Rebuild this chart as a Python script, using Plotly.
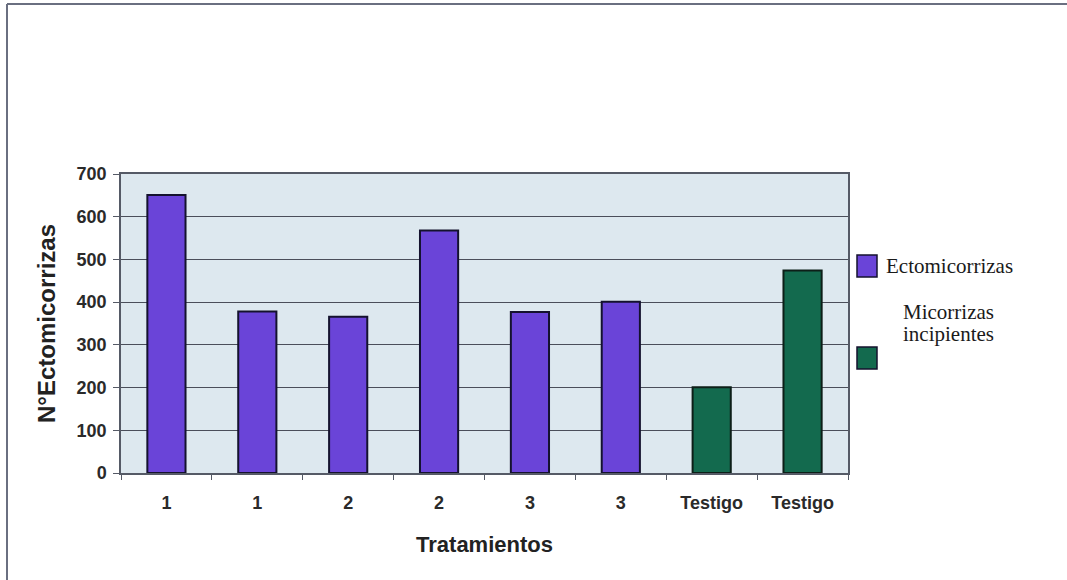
import plotly.graph_objects as go

# Treatment labels along the x axis and counts per bar
tick_labels = ["1", "1", "2", "2", "3", "3", "Testigo", "Testigo"]
ecto_values = [651, 378, 366, 568, 377, 401]
incip_values = [201, 474]
series_names = ["Ectomicorrizas", "Micorrizas", "incipientes"]
series_colors = ["#6a44d8", "#136a4e"]

positions = list(range(len(tick_labels)))
ecto_x = positions[:len(ecto_values)]
incip_x = positions[len(ecto_values):]

fig = go.Figure()
fig.add_trace(go.Bar(
    x=ecto_x, y=ecto_values, width=0.42, name="Ectomicorrizas",
    marker=dict(color=series_colors[0], line=dict(color="#14122e", width=2)),
    showlegend=False,
))
fig.add_trace(go.Bar(
    x=incip_x, y=incip_values, width=0.42, name="Micorrizas incipientes",
    marker=dict(color=series_colors[1], line=dict(color="#0d1f18", width=2)),
    showlegend=False,
))

axis_font = dict(family="Liberation Sans, Arial", size=18, color="#2a2a2a")

fig.update_layout(
    width=1067, height=580,
    margin=dict(l=121, r=219, t=174, b=107),
    paper_bgcolor="white",
    plot_bgcolor="#dde8ef",
    barmode="overlay",
    xaxis=dict(
        range=[-0.5, len(tick_labels) - 0.5],
        tickmode="array", tickvals=positions, ticktext=[f"<b>{t}</b>" for t in tick_labels],
        ticks="", tickfont=axis_font, ticklabelstandoff=13,
        showgrid=False, zeroline=False,
        showline=True, linecolor="#555a66", linewidth=1.5, mirror=True,
        minor=dict(tickmode="array",
                   tickvals=[p - 0.5 for p in positions] + [positions[-1] + 0.5],
                   ticks="outside", ticklen=5, tickcolor="#555a66", showgrid=False),
        title=dict(text="<b>Tratamientos</b>",
                   font=dict(family="Liberation Sans, Arial", size=22, color="#222"),
                   standoff=24),
    ),
    yaxis=dict(
        range=[0, 700], tickmode="linear", tick0=0, dtick=100,
        ticks="outside", ticklen=6, tickcolor="#555a66",
        tickfont=axis_font, tickprefix="<b>", ticksuffix="</b>", ticklabelstandoff=3,
        showgrid=True, gridcolor="#4a4e5a", gridwidth=1,
        zeroline=False,
        showline=True, linecolor="#555a66", linewidth=1.5, mirror=True,
        title=dict(text="<b>N°Ectomicorrizas</b>",
                   font=dict(family="Liberation Sans, Arial", size=24, color="#222"),
                   standoff=14),
    ),
)

# Outer frame of the chart area: left and top edges only
frame = dict(color="#6a6f80", width=2)
fig.add_shape(type="line", xref="paper", yref="paper",
              x0=(7 - 121) / 727, x1=(7 - 121) / 727, y0=(473 - 580) / 299, y1=(473 - 4) / 299,
              line=frame)
fig.add_shape(type="line", xref="paper", yref="paper",
              x0=(7 - 121) / 727, x1=(1067 - 121) / 727, y0=(473 - 4) / 299, y1=(473 - 4) / 299,
              line=frame)

# Legend drawn beside the plot area
px_x = lambda px: (px - 121) / 727
px_y = lambda py: (473 - py) / 299
legend_font = dict(family="Liberation Serif, Times New Roman", size=21, color="#1a1a1a")

for (cy, color) in [(266, series_colors[0]), (358, series_colors[1])]:
    fig.add_shape(type="rect", xref="paper", yref="paper",
                  x0=px_x(857), x1=px_x(877), y0=px_y(cy + 11), y1=px_y(cy - 11),
                  fillcolor=color, line=dict(color="#14122e", width=1.5))

fig.add_annotation(xref="paper", yref="paper", x=px_x(884), y=px_y(266),
                   xanchor="left", yanchor="middle", showarrow=False,
                   text=series_names[0], font=legend_font)
for text, cy in [(series_names[1], 312), (series_names[2], 334)]:
    fig.add_annotation(xref="paper", yref="paper", x=px_x(948), y=px_y(cy),
                       xanchor="center", yanchor="middle", showarrow=False,
                       text=text, font=legend_font)

fig.write_html(
    "out.html",
    config={"displayModeBar": False},
    post_script="document.body.style.margin='0';document.body.style.overflow='hidden';",
)
